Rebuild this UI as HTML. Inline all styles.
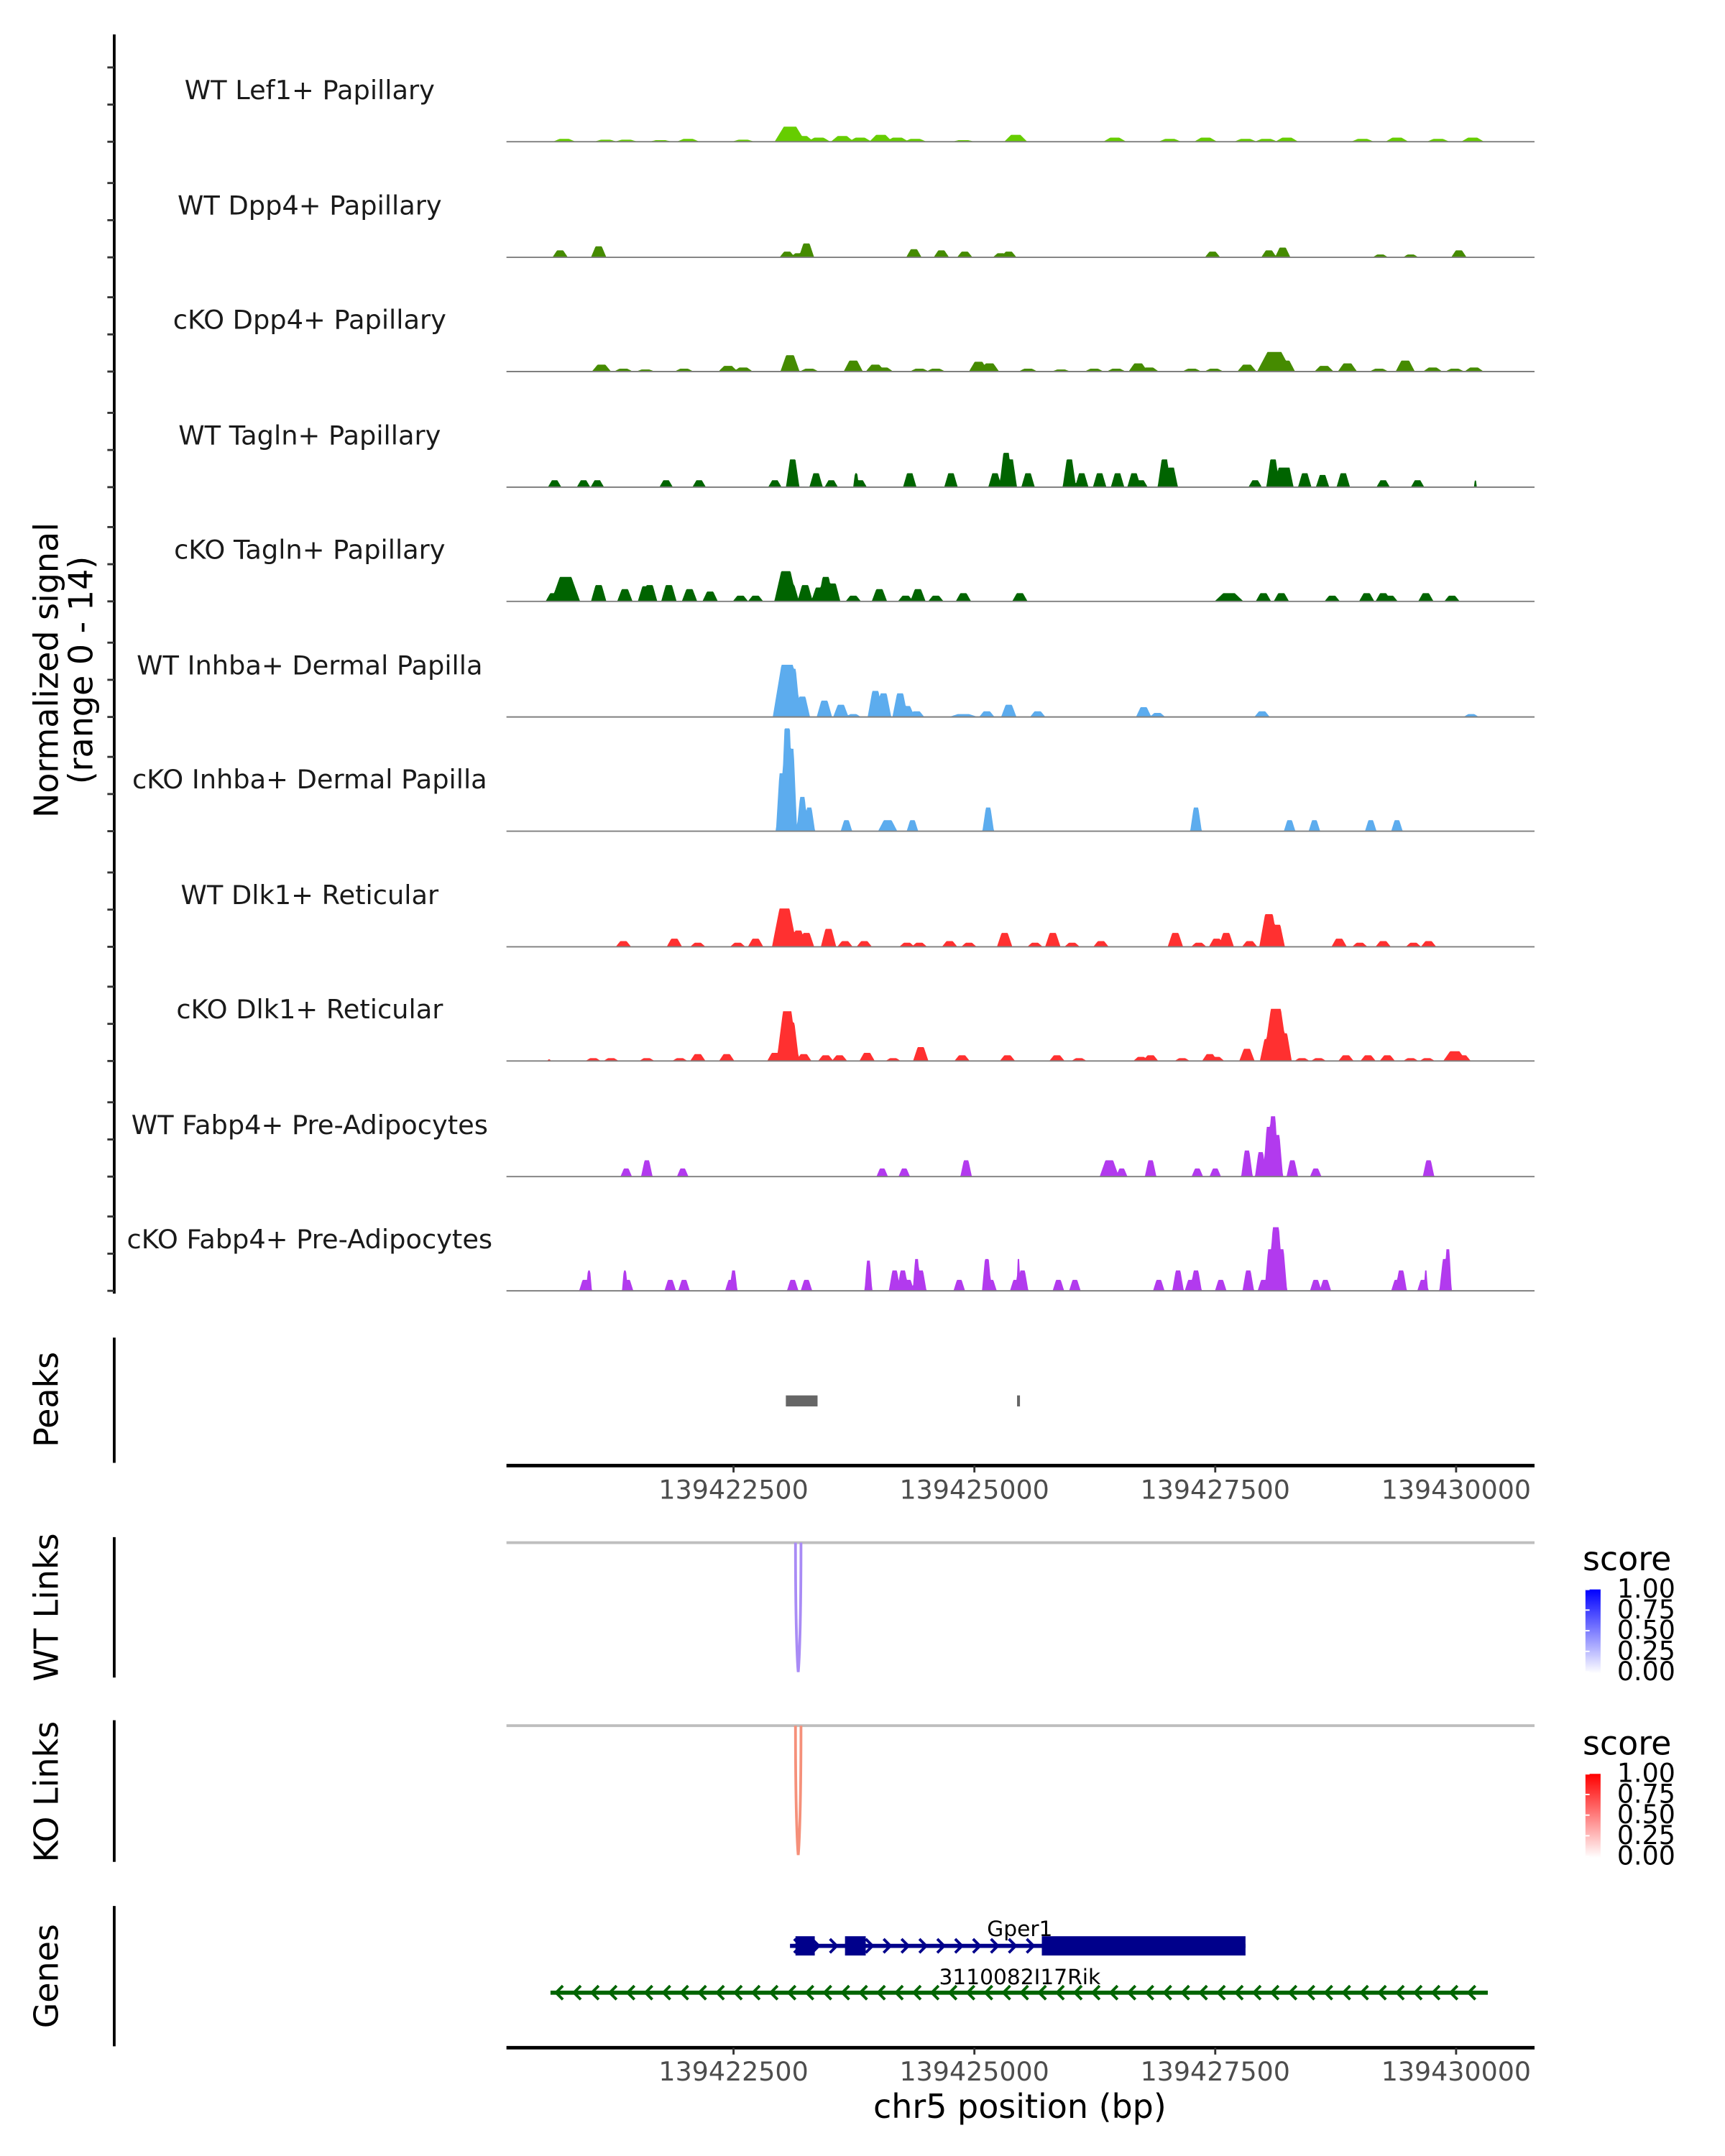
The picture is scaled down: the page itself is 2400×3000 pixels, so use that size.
<!DOCTYPE html>
<html><head><meta charset="utf-8"><style>
html,body{margin:0;padding:0;background:#fff;}
svg{display:block;}
text{font-family:"DejaVu Sans","Liberation Sans",sans-serif;}
</style></head><body>
<svg id="fig" xmlns="http://www.w3.org/2000/svg" width="2400" height="3000" viewBox="0 0 1253.4 1566.7" preserveAspectRatio="none">
<g id="g"></g>
</svg>
<script>
// ---------- data ----------
const REGION_START = 139420143;           // bp at left edge of window
const REGION_END = 139430814;             // bp at right edge
const xTicks = [139422500, 139425000, 139427500, 139430000];
const trackNames = ["WT Lef1+ Papillary","WT Dpp4+ Papillary","cKO Dpp4+ Papillary","WT Tagln+ Papillary","cKO Tagln+ Papillary","WT Inhba+ Dermal Papilla","cKO Inhba+ Dermal Papilla","WT Dlk1+ Reticular","cKO Dlk1+ Reticular","WT Fabp4+ Pre-Adipocytes","cKO Fabp4+ Pre-Adipocytes"];
const trackColors = ["#66CD00","#458B00","#458B00","#006400","#006400","#5CACEE","#5CACEE","#FF3030","#FF3030","#B23AEE","#B23AEE"];
const signalMax = 14;
// peaks: [offset bp from REGION_START, signal height, half-width bp]
const lef1WT = [[600,.35,120],[1029,.25,120],[1243,.25,120],[1600,.2,120],[1886,.35,120],[2457,.25,120],[2943,1.85,160],[3071,.7,120],[3243,.5,120],[3486,.7,120],[3671,.5,120],[3886,.85,120],[4057,.5,120],[4243,.35,120],[4743,.2,120],[5286,.85,120],[6314,.5,120],[6886,.35,120],[7257,.5,120],[7671,.35,120],[7886,.35,120],[8100,.5,120],[8886,.35,120],[9243,.5,120],[9671,.35,120],[10029,.5,120]];
const dpp4WT = [[557,.85,80],[957,1.35,80],[2914,.7,80],[3029,.5,80],[3114,1.7,80],[4229,1,80],[4514,.85,80],[4757,.7,80],[5129,.5,80],[5214,.7,80],[7329,.7,80],[7914,.85,80],[8057,1.2,80],[9071,.35,80],[9386,.35,80],[9886,.85,80]];
const dpp4KO = [[986,.85,100],[1214,.35,100],[1443,.25,100],[1843,.35,100],[2300,.7,100],[2457,.5,100],[2943,2,100],[3143,.35,100],[3600,1.35,100],[3829,.85,100],[3914,.5,100],[4286,.35,100],[4457,.35,100],[4900,1.2,100],[5014,1,100],[5414,.35,100],[5757,.25,100],[6100,.35,100],[6329,.35,100],[6557,1,100],[6671,.5,100],[7114,.35,100],[7343,.35,100],[7686,.85,100],[7971,2.4,180],[8086,1.35,100],[8486,.7,100],[8729,1,100],[9057,.35,100],[9329,1.35,100],[9614,.5,100],[9843,.35,100],[10043,.5,100]];
const taglnWT = [[500,.85,70],[800,.85,70],[943,.85,70],[1657,.85,70],[2000,.85,70],[2786,.85,70],[2971,3.4,70],[3214,1.7,70],[3371,.85,70],[3629,1.7,30],[3671,.85,70],[4186,1.7,70],[4614,1.7,70],[5071,1.7,70],[5186,4.2,70],[5229,3.4,70],[5414,1.7,70],[5843,3.4,70],[5971,1.7,70],[6157,1.7,70],[6343,1.7,70],[6514,1.7,70],[6586,.85,70],[6829,3.4,70],[6900,2.4,70],[7771,.85,70],[7957,3.4,70],[8043,2.4,70],[8100,2.4,70],[8286,1.7,70],[8471,1.5,70],[8686,1.7,70],[9100,.85,70],[9457,.85,70],[10057,.85,15]];
const taglnKO = [[486,1,80],[614,3,150],[957,2,80],[1229,1.5,80],[1443,1.85,80],[1486,2,80],[1686,2,80],[1900,1.5,80],[2114,1.2,80],[2429,.7,80],[2586,.7,80],[2900,3.7,120],[2957,2,80],[3100,2,80],[3243,1.7,80],[3314,3,80],[3386,2.2,80],[3600,.7,80],[3871,1.5,80],[4143,.7,80],[4271,1.5,80],[4457,.7,80],[4743,1,80],[5329,1,80],[7500,1,150],[7857,1,80],[8043,1,80],[8571,.7,80],[8929,1,80],[9100,1,80],[9171,.7,80],[9543,1,80],[9814,.7,80]];
const inhbaWT = [[2914,6.4,150],[2971,5.9,80],[3071,2.5,80],[3300,2,80],[3471,1.5,80],[3600,.35,80],[3829,3.2,80],[3914,2.9,80],[4086,2.9,80],[4157,1.35,80],[4257,.7,80],[4743,.35,150],[4986,.7,80],[5214,1.5,80],[5514,.7,80],[6614,1.2,80],[6757,.5,80],[7843,.7,80],[10014,.35,80]];
const inhbaKO = [[2857,7.1,60],[2914,12.6,70],[2957,10.1,60],[3071,4.2,60],[3143,2.9,60],[3529,1.35,60],[3957,1.35,100],[4214,1.35,60],[5000,2.9,60],[7157,2.9,60],[8129,1.35,60],[8386,1.35,60],[8971,1.35,60],[9243,1.35,60]];
const dlk1WT = [[1214,.7,80],[1743,1,80],[1986,.5,80],[2400,.5,80],[2586,1,80],[2886,4.7,130],[3029,2,80],[3114,1.7,80],[3343,2.2,80],[3514,.7,80],[3714,.7,80],[4157,.5,80],[4286,.5,80],[4600,.7,80],[4800,.5,80],[5171,1.7,80],[5486,.5,80],[5671,1.7,80],[5871,.5,80],[6171,.7,80],[6943,1.7,80],[7186,.5,80],[7371,1,80],[7471,1.7,80],[7714,.7,80],[7914,4,100],[8000,2.7,80],[8643,1,80],[8857,.5,80],[9100,.7,80],[9414,.5,80],[9571,.7,80]];
const dlk1KO = [[443,.2,20],[900,.35,80],[1086,.35,80],[1457,.35,80],[1800,.35,80],[1986,.85,80],[2286,.85,80],[2786,1,80],[2914,6.1,110],[2957,4.7,80],[3086,.85,80],[3314,.7,80],[3457,.7,80],[3743,1,80],[4014,.35,80],[4300,1.7,80],[4729,.7,80],[5200,.7,80],[5714,.7,80],[5943,.35,80],[6586,.5,80],[6686,.7,80],[7014,.35,80],[7300,.85,80],[7371,.5,80],[7686,1.5,80],[7900,2.7,80],[7986,6.4,130],[8071,3.4,80],[8257,.35,80],[8429,.35,80],[8714,.7,80],[8943,.7,80],[9143,.7,80],[9386,.35,80],[9557,.35,80],[9843,1.2,120],[9929,.7,80]];
const fabp4WT = [[1243,1,60],[1457,2,60],[1829,1,60],[3900,1,60],[4129,1,60],[4771,2,60],[6257,2,100],[6386,1,60],[6686,2,60],[7171,1,60],[7357,1,60],[7686,3.2,60],[7829,3,60],[7914,6.1,60],[7957,7.4,60],[8000,5.1,60],[8157,2,60],[8400,1,60],[9571,2,60]];
const fabp4KO = [[814,1.35,60],[857,2.5,30],[1229,2.5,30],[1257,1.35,60],[1700,1.35,60],[1843,1.35,60],[2329,1.35,60],[2357,2.5,40],[2971,1.35,60],[3114,1.35,60],[3757,3.7,40],[4029,2.5,60],[4114,2.5,60],[4171,1.35,60],[4257,3.9,40],[4300,2.5,60],[4700,1.35,60],[4986,3.9,50],[5029,1.35,60],[5286,1.35,60],[5314,3.9,20],[5357,2.5,60],[5729,1.35,60],[5900,1.35,60],[6771,1.35,60],[6971,2.5,60],[7100,1.35,60],[7157,2.5,60],[7414,1.35,60],[7700,2.5,60],[7857,1.35,60],[7929,5.1,60],[7986,7.8,80],[8043,5.1,60],[8400,1.35,60],[8500,1.35,60],[9243,1.35,60],[9286,2.5,60],[9514,1.35,60],[9543,2.5,20],[9743,3.9,60],[9771,5.1,40]];
const trackPeaks = [lef1WT,dpp4WT,dpp4KO,taglnWT,taglnKO,inhbaWT,inhbaKO,dlk1WT,dlk1KO,fabp4WT,fabp4KO];
const peakRegions = [[2900,3229],[5300,5330]];
const wtLinks = [[3000,3057,1.0]];
const koLinks = [[3000,3057,1.0]];
const legendTicks = ["1.00","0.75","0.50","0.25","0.00"];
const gper1 = {start:2943,end:7671,strand:1,exons:[[3000,3200],[3514,3729],[5557,7671]]};
const rik = {start:457,end:10186,strand:-1,exons:[]};

// ---------- helpers ----------
const NS="http://www.w3.org/2000/svg";
const G=document.getElementById('g');
const X0=368,X1=1115;
function xs(off){return X0+(off)*(X1-X0)/(REGION_END-REGION_START);}
function xbp(bp){return xs(bp-REGION_START);}
function el(tag,attrs,parent){const e=document.createElementNS(NS,tag);for(const k in attrs)e.setAttribute(k,attrs[k]);(parent||G).appendChild(e);return e;}
function txt(s,attrs,parent){const e=el('text',attrs,parent);e.textContent=s;return e;}

const baselines=[103,187,270,354,437,521,604,688,771,855,938];
const trackH=83;
function ys(v,b){return b-v/signalMax*trackH;}

// left axis
let a=el('line',{x1:83,y1:25,x2:83,y2:940,stroke:'#000','stroke-width':2});


baselines.forEach(b=>{[0,27,54].forEach(o=>{
  const t=el('line',{x1:78,y1:b-o,x2:83,y2:b-o,stroke:'#333','stroke-width':1.5});
  
  
});});
let yt=txt('Normalized signal',{x:0,y:0,'font-size':24,'text-anchor':'middle',fill:'#000',transform:'translate(42,487) rotate(-90)'});


let yt2=txt('(range 0 - 14)',{x:0,y:0,'font-size':24,'text-anchor':'middle',fill:'#000',transform:'translate(67,487) rotate(-90)'});



// tracks
trackPeaks.forEach((pk,i)=>{
  const b=baselines[i];
  const g=el('g',{});
  
  
  const lab=txt(trackNames[i],{x:225,y:b-31,'font-size':19.2,'text-anchor':'middle',fill:'#1a1a1a'},g);
  
  
  let pts=[[X0,b]];
  for(let x=X0;x<=X1;x+=0.5){
    let v=0;
    pk.forEach(p=>{const c=xs(p[0]);const hw=p[2]*(X1-X0)/(REGION_END-REGION_START);const d=Math.abs(x-c);
      const f=Math.max(0,Math.min(1,(hw-d)/(hw*0.6)));v=Math.max(v,p[1]*f);});
    pts.push([x,ys(v,b)]);
  }
  pts.push([X1,b]);
  const area=el('polygon',{points:pts.map(p=>p[0].toFixed(1)+','+p[1].toFixed(2)).join(' '),fill:trackColors[i]},g);
  
  
  const bl=el('line',{x1:X0,y1:b,x2:X1,y2:b,stroke:'#7f7f7f','stroke-width':1},g);
  
  
});

// peaks
function sideLabel(s,y,top,bot,name){
  const l=el('line',{x1:83,y1:top,x2:83,y2:bot,stroke:'#000','stroke-width':2});
  
  
  const t=txt(s,{x:0,y:0,'font-size':24,'text-anchor':'middle',fill:'#000',transform:'translate(42,'+y+') rotate(-90)'});
  
  
}
sideLabel('Peaks',1017,972,1063,'peaks');
peakRegions.forEach(p=>{
  const x1=xs(p[0]),x2=xs(p[1]);
  const r=el('rect',{x:x1,y:1014,width:Math.max(2,x2-x1),height:8,fill:'#666'});
  
  
});
function xAxis(y,name){
  const l=el('line',{x1:X0,y1:y,x2:X1,y2:y,stroke:'#000','stroke-width':2.5});
  
  
  xTicks.forEach(t=>{
    const x=xbp(t);
    const tk=el('line',{x1:x,y1:y,x2:x,y2:y+5,stroke:'#333','stroke-width':1.5});
    
    
    const tl=txt(String(t),{x:x,y:y+24,'font-size':19,'text-anchor':'middle',fill:'#4d4d4d'});
    
    
  });
}
xAxis(1065,'peaks-x-axis');

// links
function linkPanel(top,bot,lineY,depth,links,color,name,lab,labY,gradTop,gradId){
  sideLabel(lab,labY,top,bot,name);
  const gl=el('line',{x1:X0,y1:lineY,x2:X1,y2:lineY,stroke:'#bebebe','stroke-width':2});
  
  
  links.forEach(k=>{
    const a=xs(k[0]),b=xs(k[1]);const m=(a+b)/2;
    const p=el('path',{d:`M${a},${lineY} C${a},${lineY+depth*0.8} ${m},${lineY+depth} ${m},${lineY+depth} C${m},${lineY+depth} ${b},${lineY+depth*0.8} ${b},${lineY}`,fill:'none',stroke:color,'stroke-width':2});
    
    
  });
  const lt=txt('score',{x:1150,y:gradTop-14,'font-size':24,fill:'#000'});
  
  
  const r=el('rect',{x:1152,y:gradTop,width:11,height:61,fill:'url(#'+gradId+')'});
  
  
  legendTicks.forEach((s,i)=>{
    const yy=gradTop+i*15;
    const tk=el('line',{x1:1152,y1:yy,x2:1155,y2:yy,stroke:'#fff','stroke-width':1});
    
    
    const t=txt(s,{x:1175,y:yy+6,'font-size':19,fill:'#000'});
    
    
  });
}
const defs=el('defs',{});
function grad(id,c){const lg=el('linearGradient',{id:id,x1:0,y1:1,x2:0,y2:0},defs);el('stop',{offset:0,'stop-color':'#fff'},lg);el('stop',{offset:1,'stop-color':c},lg);}
grad('gb','#0000FF');grad('gr','#FF0000');
linkPanel(1117,1219,1121,94,wtLinks,'#A98BF5','wt-links','WT Links',1168,1155,'gb');
linkPanel(1250,1353,1254,94,koLinks,'#F5907A','ko-links','KO Links',1302,1289,'gr');

// genes
sideLabel('Genes',1436,1385,1487,'genes');
function gene(gn,name,y,color,label,labY){
  const g=el('g',{});
  
  
  const a=xs(gn.start),b=xs(gn.end);
  el('line',{x1:a,y1:y,x2:b,y2:y,stroke:color,'stroke-width':3},g);
  for(let x=a+6;x<b-4;x+=13){
    const d=gn.strand>0?`M${x-3},${y-5} L${x+2},${y} L${x-3},${y+5}`:`M${x+3},${y-5} L${x-2},${y} L${x+3},${y+5}`;
    el('path',{d:d,fill:'none',stroke:color,'stroke-width':2},g);
  }
  gn.exons.forEach(e=>{
    const r=el('rect',{x:xs(e[0]),y:y-7,width:xs(e[1])-xs(e[0]),height:14,fill:color},g);
    
    
  });
  const t=txt(label,{x:741,y:labY,'font-size':15.5,'text-anchor':'middle',fill:'#000'},g);
  
  
}
gene(gper1,'gene-gper1',1414,'#00008B','Gper1',1407);
gene(rik,'gene-3110082i17rik',1448,'#006400','3110082I17Rik',1442);
xAxis(1488,'genes-x-axis');
const xt=txt('chr5 position (bp)',{x:741,y:1539,'font-size':24,'text-anchor':'middle',fill:'#000'});


</script>
</body></html>
